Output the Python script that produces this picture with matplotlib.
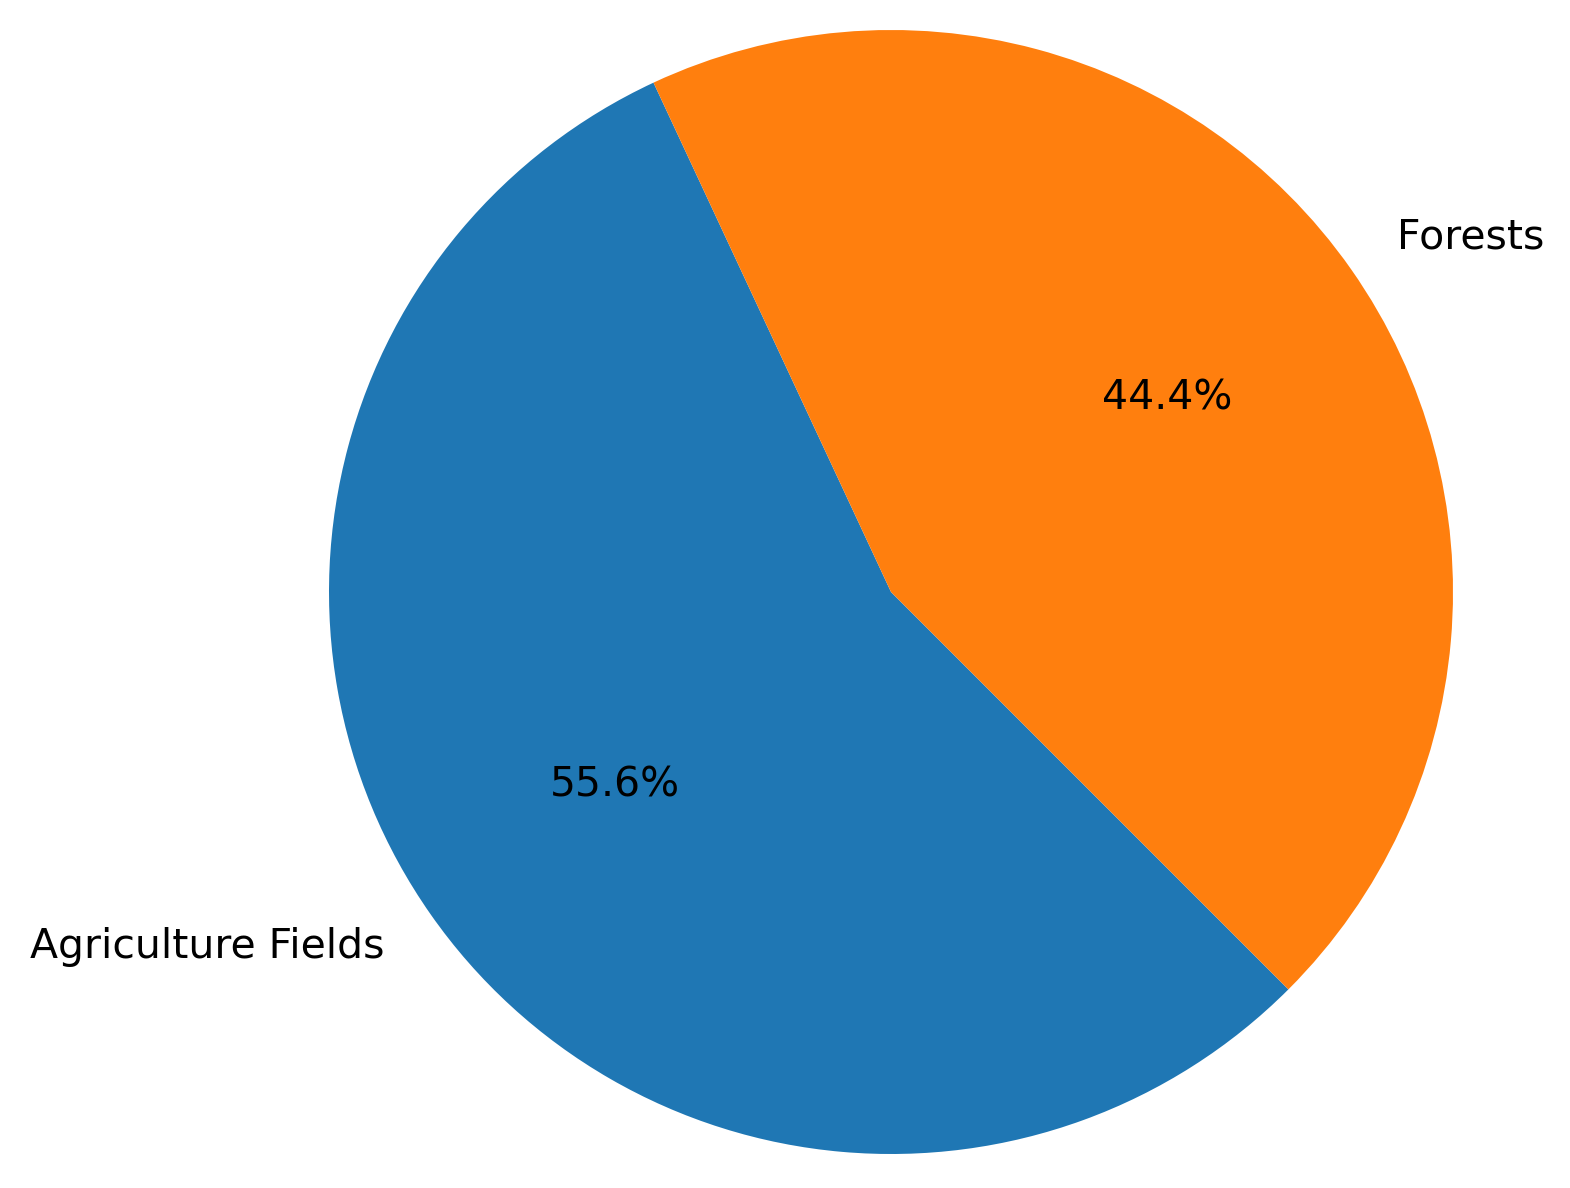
import matplotlib
matplotlib.use("Agg")
import matplotlib.pyplot as plt

labels = ["Agriculture Fields", "Forests"]
values = [5, 4]

fig = plt.figure(figsize=(15.7, 11.88), dpi=100)
ax = fig.add_axes([0, 0, 1, 1])
ax.pie(values, labels=labels, autopct="%1.1f%%", startangle=115,
       colors=["#1f77b4", "#ff7f0e"], textprops={"fontsize": 29.5})
ax.set_aspect("equal")
r = 562
# set limits so that radius 1 maps to r pixels, center at (891, 596 from bottom)
ax.set_xlim(-891 / r, (1570 - 891) / r)
ax.set_ylim(-596 / r, (1188 - 596) / r)
fig.savefig("out.png", dpi=100)
